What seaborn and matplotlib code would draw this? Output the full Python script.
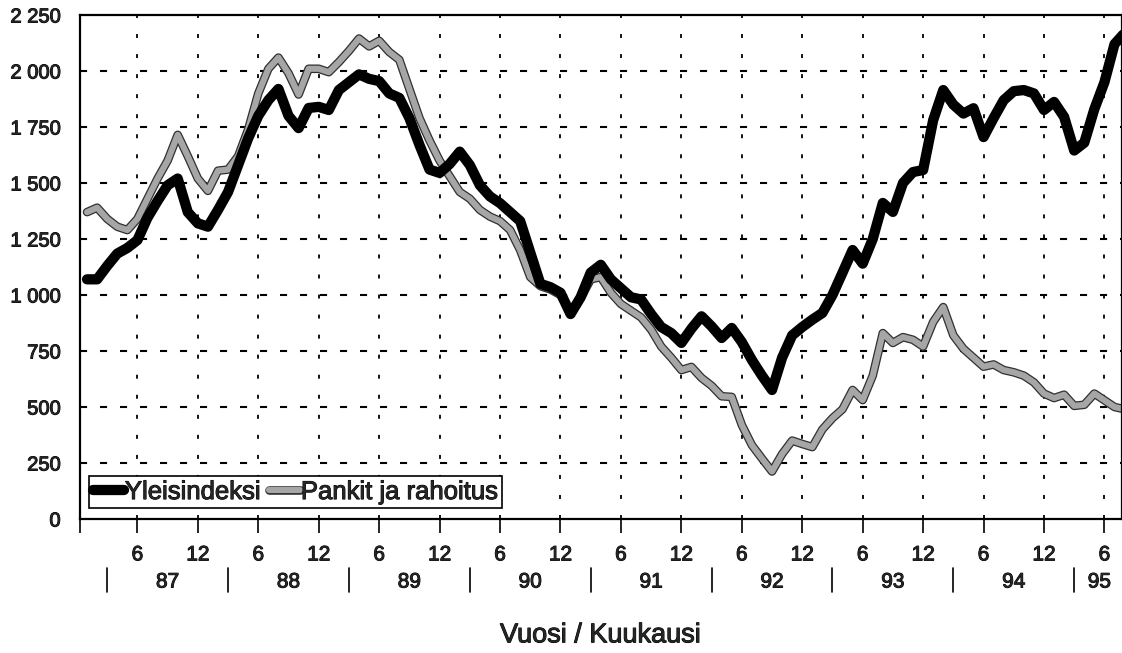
import matplotlib

matplotlib.use("Agg")
import matplotlib.pyplot as plt
import matplotlib.patheffects as pe
import matplotlib.transforms as mtransforms
from matplotlib.lines import Line2D
import numpy as np
import pandas as pd
import seaborn as sns

# months since Jan 1987 (0 = Jan 87)
months = list(range(104))

yleisindeksi = [
    1070, 1070, 1130, 1185, 1210, 1245, 1345, 1420, 1490, 1520, 1370, 1320,
    1305, 1380, 1460, 1580, 1700, 1800, 1870, 1920, 1800, 1745, 1835, 1840,
    1826, 1915, 1950, 1985, 1965, 1955, 1900, 1880, 1790, 1670, 1560, 1545,
    1585, 1640, 1580, 1490, 1440, 1410, 1370, 1330, 1190, 1050, 1035, 1010,
    915, 990, 1100, 1135, 1070, 1030, 990, 980, 915, 857, 830, 786,
    850, 905, 860, 808, 853, 790, 710, 640, 576, 720, 820, 857,
    890, 920, 1000, 1100, 1201, 1140, 1250, 1411, 1371, 1500, 1549, 1558,
    1781, 1915, 1850, 1810, 1834, 1705, 1790, 1870, 1910, 1915, 1900, 1826,
    1862, 1795, 1645, 1680, 1830, 1950, 2120, 2170,
]

pankit = [
    1370, 1390, 1340, 1305, 1290, 1340, 1430, 1520, 1600, 1715, 1620, 1520,
    1465, 1555, 1560, 1620, 1740, 1900, 2010, 2060, 1990, 1895, 2010, 2010,
    1995, 2040, 2090, 2145, 2110, 2135, 2085, 2050, 1920, 1790, 1690, 1600,
    1530, 1460, 1430, 1380, 1350, 1330, 1290, 1200, 1080, 1040, 1025, 1000,
    925, 985, 1070, 1080, 1010, 960, 930, 900, 845, 770, 720, 665,
    679, 630, 595, 548, 545, 420, 330, 270, 212, 290, 350, 335,
    321, 400, 450, 490, 576, 531, 640, 830, 786, 812, 800, 770,
    880, 946, 820, 760, 720, 680, 690, 665, 655, 640, 610, 560,
    540, 555, 505, 510, 560, 530, 500, 490,
]

month_ticks = [5, 11, 17, 23, 29, 35, 41, 47, 53, 59, 65, 71, 77, 83, 89, 95, 101]
month_labels = ["6", "12"] * 8 + ["6"]
year_labels = ["87", "88", "89", "90", "91", "92", "93", "94", "95"]
year_centers = [8, 20, 32, 44, 56, 68, 80, 92, 100.5]
year_separators = [2, 14, 26, 38, 50, 62, 74, 86, 98]
y_ticks = list(range(0, 2251, 250))

df = pd.DataFrame({"month": months, "Yleisindeksi": yleisindeksi, "Pankit ja rahoitus": pankit})

sns.set_theme(style="white")
plt.rcParams["font.family"] = ["Liberation Sans", "DejaVu Sans"]

# scanned print look: slightly heavier glyphs
ink = [pe.withStroke(linewidth=0.7, foreground="black")]

fig = plt.figure(figsize=(11.22, 6.53), dpi=100)
ax = fig.add_axes([0.0713, 0.2052, 0.9283, 0.7718])

gray_fx = [pe.Stroke(linewidth=6.2, foreground="#303030"), pe.Normal()]
sns.lineplot(data=df, x="month", y="Pankit ja rahoitus", color="#a6a6a6", linewidth=4.4, ax=ax,
             path_effects=gray_fx, solid_capstyle="round", solid_joinstyle="round")
sns.lineplot(data=df, x="month", y="Yleisindeksi", color="black", linewidth=7.4, ax=ax,
             solid_capstyle="round", solid_joinstyle="round")

ax.set_xlim(-0.7, 102.7)
ax.set_ylim(0, 2250)

# grid
for t in month_ticks:
    ax.axvline(t, color="black", linewidth=1.3, linestyle=(0, (2.2, 8.9)), zorder=0)
for v in y_ticks[1:-1]:
    ax.axhline(v, color="black", linewidth=1.5, linestyle=(0, (3.4, 6.2)), zorder=0)

ax.set_yticks(y_ticks)
ax.set_yticklabels([f"{v:,}".replace(",", " ") for v in y_ticks], fontsize=14.5)
ax.tick_params(axis="y", length=0, pad=14)

ax.set_xticks([-0.7] + month_ticks)
ax.set_xticklabels([""] + month_labels, fontsize=15)
ax.tick_params(axis="x", direction="out", length=10, width=1.2, color="black", pad=9, bottom=True)
for lab in ax.get_xticklabels() + ax.get_yticklabels():
    lab.set_path_effects(ink)

for side in ["top", "bottom", "left", "right"]:
    ax.spines[side].set_visible(True)
    ax.spines[side].set_color("black")
    ax.spines[side].set_linewidth(1.6)

trans = mtransforms.blended_transform_factory(ax.transData, ax.transAxes)
for t in year_separators:
    ax.plot([t, t], [-0.097, -0.145], color="black", linewidth=1.2, transform=trans, clip_on=False)
for t, lab in zip(year_centers, year_labels):
    ax.text(t, -0.125, lab, transform=trans, ha="center", va="center", fontsize=15, path_effects=ink)

ax.set_xlabel("Vuosi / Kuukausi", fontsize=19.5, path_effects=ink)
ax.xaxis.set_label_coords(0.5, -0.205)
ax.set_ylabel("")

handles = [
    Line2D([], [], color="black", linewidth=7.4, solid_capstyle="round"),
    Line2D([], [], color="#a6a6a6", linewidth=4.4, path_effects=gray_fx),
]
leg = ax.legend(handles, ["Yleisindeksi", "Pankit ja rahoitus"], loc="lower left",
                bbox_to_anchor=(0.0086, 0.022), borderaxespad=0, ncol=2, fontsize=18.5,
                frameon=True, fancybox=False, edgecolor="black", handlelength=1.2,
                handletextpad=0.05, columnspacing=0.3, borderpad=0.15)
leg.get_frame().set_linewidth(1.2)
leg.get_frame().set_alpha(1)
for txt in leg.get_texts():
    txt.set_path_effects(ink)

fig.savefig("out.png", dpi=100)
